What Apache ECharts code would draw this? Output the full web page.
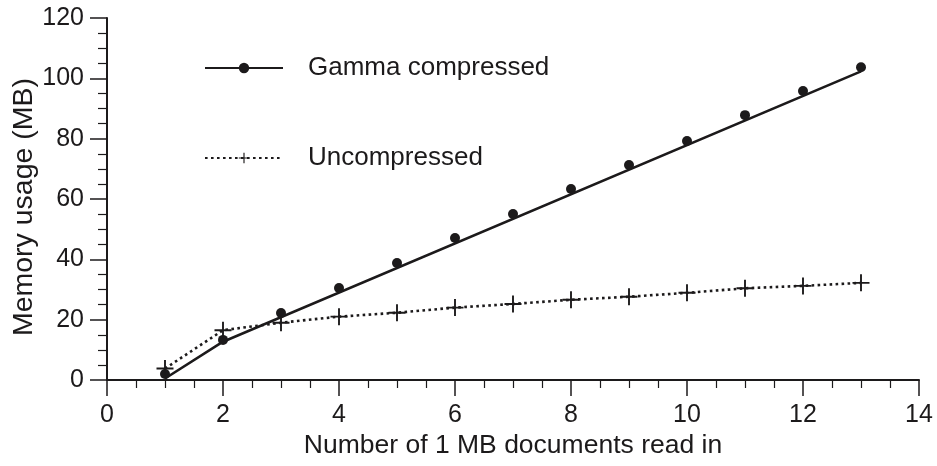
<!DOCTYPE html>
<html>
<head>
<meta charset="utf-8">
<script src="https://cdn.jsdelivr.net/npm/echarts@6/dist/echarts.min.js"></script>
<style>html,body{margin:0;padding:0;background:#fff}#c{width:937px;height:466px}</style>
</head>
<body>
<div id="c"></div>
<script>
// Data
var docs = [1, 2, 3, 4, 5, 6, 7, 8, 9, 10, 11, 12, 13];
var gammaMeasured = [2, 13.3, 22.2, 30.5, 38.8, 47.1, 55, 63.3, 71.3, 79.2, 87.8, 95.8, 103.7];
var uncompressed = [3.8, 16.5, 19, 21, 22.3, 24, 25.2, 26.6, 27.6, 28.9, 30.4, 31.2, 32.2];
var gammaFitX = [1, 2, 13];
var gammaFitY = [0.5, 12.7, 102.3];
var xTicks = [0, 2, 4, 6, 8, 10, 12, 14];
var yTicks = [0, 20, 40, 60, 80, 100, 120];
var seriesNames = ['Gamma compressed', 'Uncompressed'];
var xTitle = 'Number of 1 MB documents read in';
var yTitle = 'Memory usage (MB)';

var ink = '#1c1a1b';
var font = '"Liberation Sans", Arial, Helvetica, sans-serif';
var plusPath = 'path://M8,0H10V8H18V10H10V18H8V10H0V8H8Z';

var chart = echarts.init(document.getElementById('c'), null, {renderer: 'canvas'});
chart.setOption({
  animation: false,
  backgroundColor: '#fff',
  grid: {left: 107, right: 18, top: 18, bottom: 86, containLabel: false, outerBoundsMode: 'none'},
  legend: {
    data: seriesNames,
    orient: 'vertical',
    left: 199,
    top: 50,
    itemWidth: 78,
    itemHeight: 13,
    itemGap: 64,
    textStyle: {fontSize: 26, color: ink, fontFamily: font, padding: [0, 0, 0, 20]},
    selectedMode: false
  },
  xAxis: {
    type: 'value',
    min: xTicks[0], max: xTicks[xTicks.length - 1], interval: xTicks[1] - xTicks[0],
    name: xTitle, nameLocation: 'middle', nameGap: 52, nameMoveOverlap: false,
    nameTextStyle: {fontSize: 26.5, color: ink, fontFamily: font},
    axisLine: {onZero: false, lineStyle: {color: ink, width: 2}},
    axisTick: {length: 16, lineStyle: {color: ink, width: 1.5}},
    minorTick: {show: true, splitNumber: 4, length: 8, lineStyle: {color: ink, width: 1.2}},
    axisLabel: {fontSize: 25, color: ink, fontFamily: font, margin: 23},
    splitLine: {show: false}
  },
  yAxis: {
    type: 'value',
    min: yTicks[0], max: yTicks[yTicks.length - 1], interval: yTicks[1] - yTicks[0],
    name: yTitle, nameLocation: 'middle', nameGap: 68, nameMoveOverlap: false,
    nameTextStyle: {fontSize: 28.5, color: ink, fontFamily: font, padding: [0, 16, 0, 0]},
    axisLine: {show: true, lineStyle: {color: ink, width: 2}},
    axisTick: {show: true, length: 17, lineStyle: {color: ink, width: 1.5}},
    minorTick: {show: true, splitNumber: 4, length: 9, lineStyle: {color: ink, width: 1.2}},
    axisLabel: {fontSize: 25, color: ink, fontFamily: font, margin: 23},
    splitLine: {show: false}
  },
  series: [
    {
      name: seriesNames[0],
      type: 'line',
      symbol: 'circle',
      symbolSize: 9,
      itemStyle: {color: ink, opacity: 1},
      lineStyle: {color: ink, width: 2.6, type: 'solid'},
      data: gammaFitX.map(function (x, i) { return {value: [x, gammaFitY[i]], symbol: 'none'}; }),
      z: 2
    },
    {
      name: 'Gamma points',
      type: 'scatter',
      symbol: 'circle',
      symbolSize: 10,
      itemStyle: {color: ink, opacity: 1},
      data: docs.map(function (x, i) { return [x, gammaMeasured[i]]; }),
      z: 3
    },
    {
      name: seriesNames[1],
      type: 'line',
      symbol: plusPath,
      symbolSize: 17,
      showAllSymbol: true,
      itemStyle: {color: ink, opacity: 1},
      lineStyle: {color: ink, width: 2.6, type: [2.6, 3.4]},
      data: docs.map(function (x, i) { return [x, uncompressed[i]]; }),
      z: 3
    }
  ]
});
</script>
</body>
</html>
